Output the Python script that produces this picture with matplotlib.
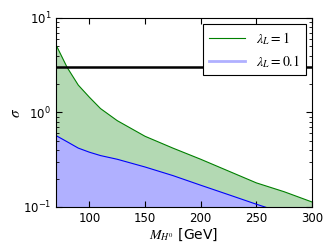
import numpy as np
import matplotlib
matplotlib.use("Agg")
import matplotlib.pyplot as plt
from matplotlib.lines import Line2D

# cross section bands
mass_green = [70, 80, 90, 100, 110, 125, 150, 175, 200, 225, 250, 275, 300]
sigma_green = [5.2, 3.0, 1.95, 1.45, 1.1, 0.82, 0.56, 0.42, 0.32, 0.24, 0.18, 0.145, 0.113]

mass_blue = [70, 80, 90, 100, 110, 125, 150, 175, 200, 225, 250, 260]
sigma_blue = [0.57, 0.49, 0.42, 0.38, 0.35, 0.32, 0.265, 0.215, 0.17, 0.135, 0.107, 0.098]

sigma_limit = 3.0

plt.rcParams["mathtext.fontset"] = "stix"

fig = plt.figure(figsize=(3.36, 2.52), dpi=100)
ax = fig.add_axes([0.1667, 0.1786, 0.7619, 0.75])

green_fill = (0.7, 0.85, 0.7)
blue_fill = (0.69, 0.69, 1.0)

ax.fill_between(mass_green, 0.01, sigma_green, color=green_fill, lw=0)
ax.plot(mass_green, sigma_green, color="green", lw=0.8)
ax.fill_between(mass_blue, 0.01, sigma_blue, color=blue_fill, lw=0)
ax.plot(mass_blue, sigma_blue, color="blue", lw=0.8)
ax.axhline(sigma_limit, color="black", lw=1.8)

ax.set_yscale("log")
ax.set_xlim(70, 300)
ax.set_ylim(0.1, 10)
ax.set_xticks([100, 150, 200, 250, 300])
ax.tick_params(which="both", direction="in", top=True, right=True, labelsize=8.5)
ax.tick_params(which="major", length=4)
ax.tick_params(which="minor", length=2)
for s in ax.spines.values():
    s.set_linewidth(0.8)

ax.set_xlabel(r"$M_{H^0}$ [GeV]", fontsize=10, labelpad=1)
ax.set_ylabel(r"$\sigma$", fontsize=11)
ax.yaxis.set_label_coords(-0.128, 0.5)

handles = [
    Line2D([], [], color="green", lw=0.8),
    Line2D([], [], color=blue_fill, lw=2),
]
leg = ax.legend(handles, [r"$\lambda_L = 1$", r"$\lambda_L = 0.1$"], loc="upper right",
                fontsize=10, fancybox=False, framealpha=1, edgecolor="black",
                borderaxespad=0.45, handlelength=2.6, labelspacing=0.45)
leg.get_frame().set_linewidth(0.8)

fig.savefig("out.png", dpi=100)
